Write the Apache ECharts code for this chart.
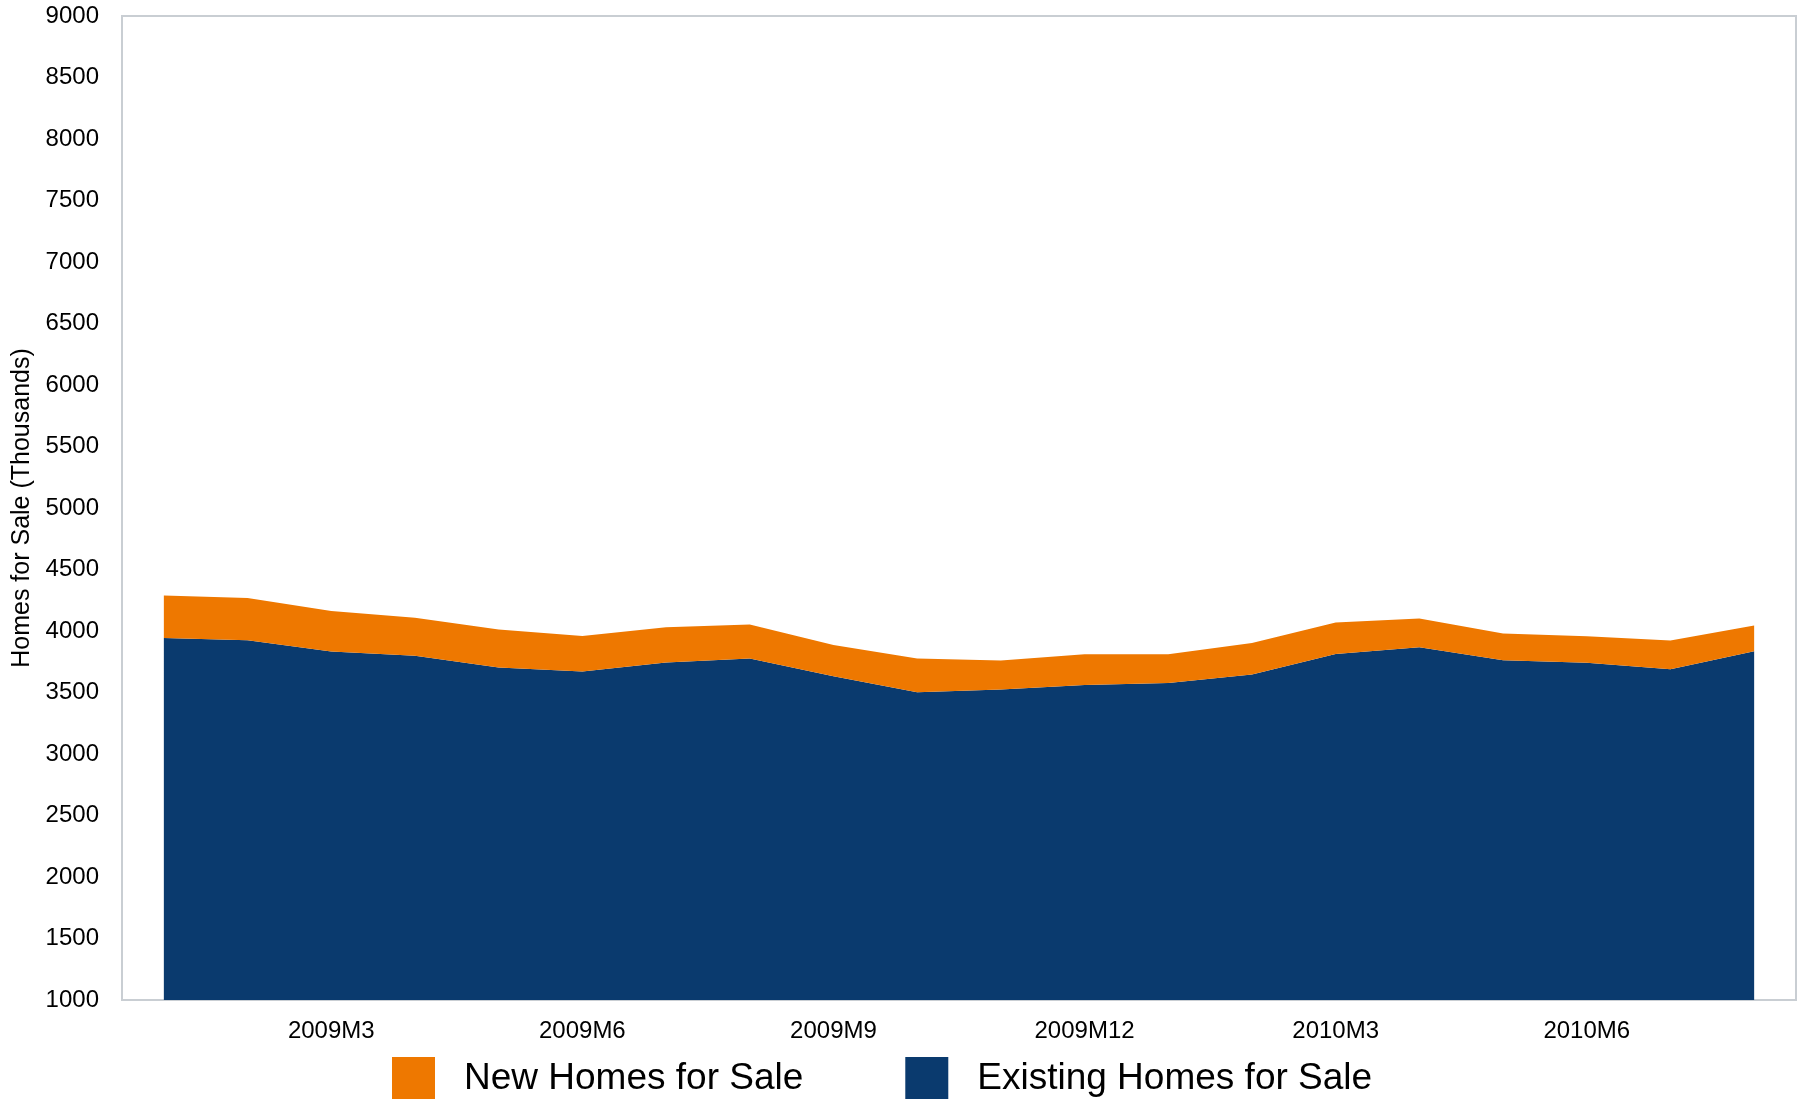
<!DOCTYPE html>
<html>
<head>
<meta charset="utf-8">
<script src="https://cdn.jsdelivr.net/npm/echarts@6/dist/echarts.min.js"></script>
<style>
html,body{margin:0;padding:0;background:#fff;}
#chart{width:1798px;height:1099px;}
</style>
</head>
<body>
<div id="chart"></div>
<script>
const categories = ['2009M1','2009M2','2009M3','2009M4','2009M5','2009M6','2009M7','2009M8','2009M9','2009M10','2009M11','2009M12','2010M1','2010M2','2010M3','2010M4','2010M5','2010M6','2010M7','2010M8'];
const existingHomes = [3944,3925,3833,3798,3703,3671,3744,3776,3633,3503,3524,3560,3578,3646,3814,3868,3763,3741,3690,3836];
const newHomes = [345,344,330,309,309,289,287,277,254,273,236,251,233,257,255,234,217,217,233,209];
const yTicks = {min:1000, max:9000, interval:500};
const labelIdx = [2,5,8,11,14,17];

const FONT = '"Liberation Sans", Arial, sans-serif';
const chart = echarts.init(document.getElementById('chart'));
chart.setOption({
  animation:false,
  textStyle:{fontFamily:FONT},
  grid:{left:122, right:2, top:16, bottom:99, show:true, borderColor:'#c9ced3', borderWidth:2, containLabel:false},
  legend:{
    data:['New Homes for Sale','Existing Homes for Sale'],
    left:387, top:1052,
    icon:'rect', itemWidth:43, itemHeight:43, itemGap:102,
    textStyle:{fontSize:37, color:'#000', fontFamily:FONT, padding:[0,0,0,24]}
  },
  xAxis:{
    type:'category', data:categories, boundaryGap:true,
    axisLine:{show:true, lineStyle:{color:'#c9ced3', width:2}},
    axisTick:{show:false},
    axisLabel:{interval:(i)=>labelIdx.indexOf(i)>=0, fontSize:24, color:'#000', margin:19, fontFamily:FONT},
    splitLine:{show:false}
  },
  yAxis:{
    type:'value', min:yTicks.min, max:yTicks.max, interval:yTicks.interval,
    name:'Homes for Sale (Thousands)', nameLocation:'middle', nameGap:84,
    nameTextStyle:{fontSize:25, color:'#000', fontFamily:FONT},
    axisLine:{show:true, lineStyle:{color:'#c9ced3', width:2}},
    axisTick:{show:false},
    axisLabel:{fontSize:24, color:'#000', margin:23, fontFamily:FONT, formatter:(v)=>String(v)},
    splitLine:{show:false}
  },
  series:[
    {name:'Existing Homes for Sale', type:'line', stack:'total', data:existingHomes, symbol:'none',
     itemStyle:{color:'#0a3a6e'}, lineStyle:{width:0, color:'#0a3a6e'}, areaStyle:{color:'#0a3a6e', opacity:1}},
    {name:'New Homes for Sale', type:'line', stack:'total', data:newHomes, symbol:'none',
     itemStyle:{color:'#ee7800'}, lineStyle:{width:0, color:'#ee7800'}, areaStyle:{color:'#ee7800', opacity:1}}
  ]
});
</script>
</body>
</html>
